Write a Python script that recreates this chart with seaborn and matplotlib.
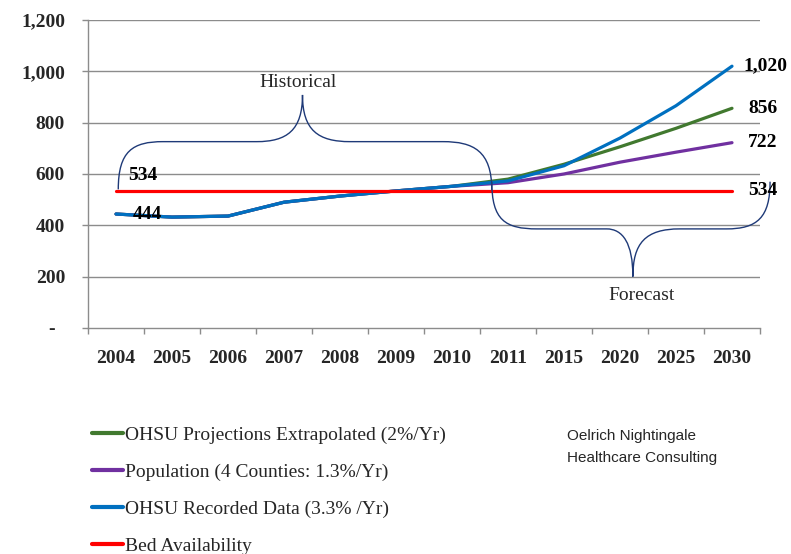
import matplotlib
matplotlib.use("Agg")
import matplotlib.pyplot as plt
from matplotlib.path import Path
from matplotlib.patches import PathPatch
import seaborn as sns
import pandas as pd
import numpy as np

# ---- data ----
years = ["2004", "2005", "2006", "2007", "2008", "2009", "2010",
         "2011", "2015", "2020", "2025", "2030"]
ohsu_proj = [444, 432, 436, 490, 514, 534, 552, 580, 638, 706, 778, 856]
population = [444, 432, 436, 490, 514, 534, 552, 566, 600, 646, 685, 722]
ohsu_recorded = [444, 432, 436, 490, 514, 534, 552, 573, 632, 740, 866, 1020]
bed_avail = [534] * 12

series_names = ["OHSU Projections Extrapolated (2%/Yr)",
                "Population (4 Counties: 1.3%/Yr)",
                "OHSU Recorded Data (3.3% /Yr)",
                "Bed Availability"]
series_vals = [ohsu_proj, population, ohsu_recorded, bed_avail]
colors = ["#41792F", "#7030A0", "#0070C0", "#FF0000"]
y_ticks = [0, 200, 400, 600, 800, 1000, 1200]
y_ticklabels = ["-  ", "200", "400", "600", "800", "1,000", "1,200"]

rows = []
for name, vals in zip(series_names, series_vals):
    for i, v in enumerate(vals):
        rows.append({"pos": i, "year": years[i], "value": v, "series": name})
df = pd.DataFrame(rows)

sns.set_style("white")
plt.rcParams["font.family"] = ["Liberation Serif", "DejaVu Serif"]

fig = plt.figure(figsize=(7.91, 5.54), dpi=100)
ax = fig.add_axes([0.1113, 0.408, 0.8495, 0.5559])

sns.lineplot(data=df, x="pos", y="value", hue="series", hue_order=series_names,
             palette=colors, linewidth=2.3, ax=ax, legend=True, sort=False)

ax.set_xlim(-0.5, len(years) - 0.5)
ax.set_ylim(0, 1200)
ax.set_xlabel("")
ax.set_ylabel("")

# grid
for yv in y_ticks[1:]:
    ax.axhline(yv, color="#8C8C8C", lw=1.0, zorder=0)

ax.set_yticks(y_ticks)
ax.set_yticklabels(y_ticklabels, fontsize=14, fontweight="bold")
ax.tick_params(axis="y", length=4.5, width=1, color="#8C8C8C", pad=12, left=True)

ax.set_xticks(range(len(years)))
ax.set_xticklabels(years, fontsize=14, fontweight="bold")
ax.set_xticks(np.arange(-0.5, len(years), 1.0), minor=True)
ax.tick_params(axis="x", which="major", length=0, pad=16)
ax.tick_params(axis="x", which="minor", length=4.5, width=1, color="#8C8C8C", bottom=True)

for s in ["top", "right"]:
    ax.spines[s].set_visible(False)
for s in ["left", "bottom"]:
    ax.spines[s].set_color("#8C8C8C")
    ax.spines[s].set_linewidth(1.0)

# value labels
lab_kw = dict(fontsize=14, fontweight="bold", color="black", va="center", ha="left", zorder=5)
ax.text(0.21, bed_avail[0] + 62, f"{bed_avail[0]}", **lab_kw)
ax.text(0.30, ohsu_recorded[0], f"{ohsu_recorded[0]}", **lab_kw)
ax.text(11.2, ohsu_recorded[-1], f"{ohsu_recorded[-1]:,}", **lab_kw)
ax.text(11.29, ohsu_proj[-1], f"{ohsu_proj[-1]}", **lab_kw)
ax.text(11.29, population[-1], f"{population[-1]}", **lab_kw)
ax.text(11.29, bed_avail[-1], f"{bed_avail[-1]}", **lab_kw)

# braces
brace_col = "#1F3A78"
C = Path.CURVE4
hist_verts = [(0.04, 540), (0.04, 690), (0.30, 726), (0.84, 726),
              (2.51, 726),
              (3.05, 726), (3.33, 770), (3.33, 908),
              (3.33, 770), (3.61, 726), (4.18, 726),
              (5.84, 726),
              (6.38, 726), (6.71, 690), (6.71, 538)]
codes = [Path.MOVETO, C, C, C, Path.LINETO, C, C, C, C, C, C, Path.LINETO, C, C, C]
ax.add_patch(PathPatch(Path(hist_verts, codes), fill=False, ec=brace_col, lw=1.0,
                       clip_on=False, zorder=4))
fc_verts = [(6.71, 570), (6.71, 420), (6.95, 386), (7.52, 386),
            (8.76, 386),
            (9.05, 386), (9.23, 330), (9.23, 200),
            (9.23, 330), (9.45, 386), (10.07, 386),
            (10.9, 386),
            (11.45, 386), (11.68, 430), (11.68, 570)]
ax.add_patch(PathPatch(Path(fc_verts, codes), fill=False, ec=brace_col, lw=1.0,
                       clip_on=False, zorder=4))
ax.text(3.25, 958, "Historical", fontsize=14, ha="center", va="center")
ax.text(9.39, 125, "Forecast", fontsize=14, ha="center", va="center")

# legend
handles, labels = ax.get_legend_handles_labels()
ax.legend_.remove()
for h in handles:
    h.set_linewidth(3)
fig.legend(handles, labels, loc="upper left", bbox_to_anchor=(0.1163, 0.231),
           frameon=False, fontsize=14, handlelength=1.6, handletextpad=0.1,
           labelspacing=1.0, borderpad=0, borderaxespad=0)

fig.text(0.717, 0.1936, "Oelrich Nightingale\nHealthcare Consulting",
         fontsize=11, family=["Liberation Sans Narrow", "Liberation Sans", "DejaVu Sans"],
         ha="left", va="center", linespacing=1.75)

fig.savefig("out.png", dpi=100)
